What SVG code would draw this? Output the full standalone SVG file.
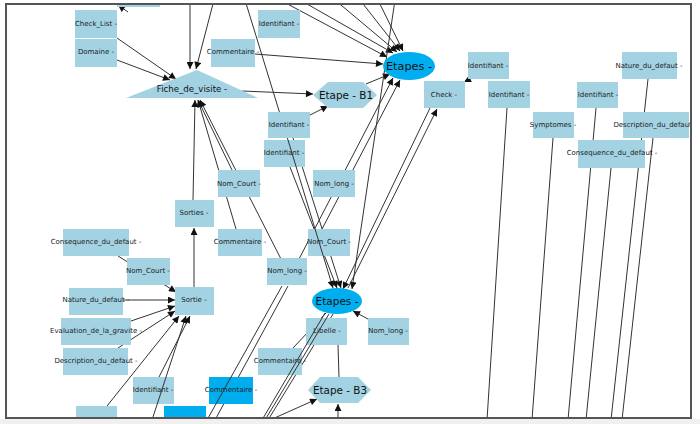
<svg xmlns="http://www.w3.org/2000/svg" width="700" height="424" viewBox="0 0 700 424">
<defs>
<style>
.n{fill:#a3d2e3}
.h{fill:#00aeef}
.t{font-family:"DejaVu Sans",Verdana,sans-serif;font-size:7px;fill:#222;text-anchor:middle;dominant-baseline:central}
.big{font-family:"DejaVu Sans",Verdana,sans-serif;fill:#111;text-anchor:middle;dominant-baseline:central}
.e{stroke:#333;stroke-width:1;fill:none}
.a{marker-end:url(#ah)}
</style>
<marker id="ah" viewBox="0 0 10 10" refX="10" refY="5" markerWidth="9" markerHeight="7" markerUnits="userSpaceOnUse" orient="auto"><path d="M0,0 L10,5 L0,10 z" fill="#111"/></marker>
<clipPath id="frame"><rect x="6" y="4" width="685" height="414"/></clipPath>
</defs>
<rect x="0" y="0" width="700" height="424" fill="#fff"/>
<rect x="0" y="419" width="700" height="5" fill="#f0f0f0"/>
<g clip-path="url(#frame)">
<g id="connectors">
<line class="e a" x1="128" y1="12" x2="118" y2="5"/>
<line class="e a" x1="190" y1="0" x2="190" y2="69"/>
<line class="e a" x1="214" y1="0" x2="196" y2="69"/>
<line class="e a" x1="117" y1="38" x2="176" y2="79"/>
<line class="e a" x1="117" y1="60" x2="170" y2="80"/>
<line class="e a" x1="255" y1="54" x2="383" y2="64"/>
<line class="e a" x1="242" y1="91" x2="313" y2="94"/>
<line class="e a" x1="310" y1="115" x2="328" y2="106"/>
<line class="e a" x1="366" y1="84" x2="390" y2="74"/>
<line class="e a" x1="280" y1="0" x2="387" y2="57"/>
<line class="e a" x1="300" y1="0" x2="393" y2="53"/>
<line class="e a" x1="335" y1="0" x2="397" y2="52"/>
<line class="e a" x1="360" y1="0" x2="400" y2="51"/>
<line class="e a" x1="378" y1="0" x2="403" y2="51"/>
<line class="e a" x1="395" y1="0" x2="352" y2="289"/>
<line class="e" x1="245" y1="0" x2="288" y2="140"/>
<line class="e a" x1="430" y1="108" x2="343" y2="289"/>
<line class="e a" x1="348" y1="288" x2="437" y2="109"/>
<line class="e a" x1="299" y1="259" x2="393" y2="78"/>
<line class="e a" x1="322" y1="229" x2="400" y2="80"/>
<line class="e a" x1="293" y1="138" x2="341" y2="288"/>
<line class="e a" x1="290" y1="167" x2="337" y2="288"/>
<line class="e a" x1="193" y1="200" x2="195" y2="100"/>
<line class="e a" x1="194" y1="287" x2="194" y2="228"/>
<line class="e a" x1="236" y1="229" x2="198" y2="100"/>
<line class="e a" x1="281" y1="259" x2="200" y2="100"/>
<line class="e a" x1="232" y1="170" x2="198" y2="100"/>
<line class="e a" x1="118" y1="256" x2="176" y2="292"/>
<line class="e a" x1="123" y1="300" x2="175" y2="300"/>
<line class="e a" x1="131" y1="321" x2="175" y2="306"/>
<line class="e a" x1="118" y1="348" x2="175" y2="311"/>
<line class="e a" x1="107" y1="406" x2="179" y2="316"/>
<line class="e a" x1="159" y1="377" x2="190" y2="316"/>
<line class="e" x1="215" y1="420" x2="288" y2="286"/>
<line class="e" x1="268" y1="420" x2="333" y2="314"/>
<line class="e a" x1="270" y1="420" x2="317" y2="399"/>
<line class="e a" x1="338" y1="420" x2="338" y2="404"/>
<line class="e" x1="338" y1="345" x2="339" y2="377"/>
<line class="e a" x1="368" y1="319" x2="353" y2="311"/>
<line class="e" x1="293" y1="348" x2="326" y2="313"/>
<line class="e" x1="507" y1="108" x2="487" y2="420"/>
<line class="e" x1="553" y1="138" x2="532" y2="420"/>
<line class="e" x1="596" y1="108" x2="568" y2="420"/>
<line class="e" x1="611" y1="168" x2="586" y2="420"/>
<line class="e" x1="648" y1="79" x2="611" y2="420"/>
<line class="e" x1="653" y1="138" x2="622" y2="420"/>
<line class="e a" x1="472" y1="78" x2="464" y2="82"/>
</g>
<g id="n-top-partial"><rect class="n" x="117" y="0" width="43" height="7"/></g>
<g id="n-checklist"><rect class="n" x="75" y="10" width="42" height="28"/><text class="t" x="96" y="24">Check_List -</text></g>
<g id="n-domaine"><rect class="n" x="75" y="39" width="42" height="28"/><text class="t" x="96" y="52">Domaine -</text></g>
<g id="n-fiche"><polygon class="n" points="126,98 197,70 258,98"/><text class="big" x="192" y="89" font-size="8.6">Fiche_de_visite -</text></g>
<g id="n-identifiant1"><rect class="n" x="258" y="10" width="42" height="28"/><text class="t" x="279" y="24">Identifiant -</text></g>
<g id="n-commentaire1"><rect class="n" x="211" y="39" width="44" height="28"/><text class="t" x="233" y="52">Commentaire -</text></g>
<g id="n-etapeb1"><polygon class="n" points="313,95 328,82 363,82 377,95 363,108 328,108"/><text class="big" x="346" y="95" font-size="10.4">Etape - B1</text></g>
<g id="n-identifiant2"><rect class="n" x="268" y="112" width="42" height="26"/><text class="t" x="289" y="125">Identifiant -</text></g>
<g id="n-identifiant3"><rect class="n" x="264" y="140" width="41" height="27"/><text class="t" x="284" y="153">Identifiant -</text></g>
<g id="n-etapes1"><ellipse class="h" cx="409" cy="66" rx="26" ry="14"/><text class="big" x="409" y="66" font-size="11.3">Etapes -</text></g>
<g id="n-identifiant4"><rect class="n" x="468" y="52" width="41" height="27"/><text class="t" x="488" y="66">Identifiant -</text></g>
<g id="n-check"><rect class="n" x="424" y="81" width="41" height="27"/><text class="t" x="444" y="95">Check -</text></g>
<g id="n-identifiant5"><rect class="n" x="488" y="81" width="42" height="27"/><text class="t" x="509" y="95">Identifiant -</text></g>
<g id="n-nature1"><rect class="n" x="622" y="52" width="55" height="27"/><text class="t" x="649" y="66">Nature_du_defaut -</text></g>
<g id="n-identifiant6"><rect class="n" x="577" y="82" width="41" height="26"/><text class="t" x="598" y="95">Identifiant -</text></g>
<g id="n-symptomes"><rect class="n" x="533" y="112" width="41" height="26"/><text class="t" x="553" y="125">Symptomes -</text></g>
<g id="n-description1"><rect class="n" x="623" y="112" width="66" height="26"/><text class="t" x="655" y="125">Description_du_defaut -</text></g>
<g id="n-consequence1"><rect class="n" x="578" y="140" width="67" height="28"/><text class="t" x="612" y="153">Consequence_du_defaut -</text></g>
<g id="n-sorties"><rect class="n" x="175" y="200" width="39" height="27"/><text class="t" x="194" y="213">Sorties -</text></g>
<g id="n-nomcourt1"><rect class="n" x="218" y="170" width="42" height="27"/><text class="t" x="239" y="184">Nom_Court -</text></g>
<g id="n-nomlong1"><rect class="n" x="313" y="170" width="42" height="27"/><text class="t" x="334" y="184">Nom_long -</text></g>
<g id="n-commentaire2"><rect class="n" x="218" y="229" width="44" height="27"/><text class="t" x="240" y="242">Commentaire -</text></g>
<g id="n-nomcourt2"><rect class="n" x="308" y="229" width="42" height="27"/><text class="t" x="329" y="242">Nom_Court -</text></g>
<g id="n-nomlong2"><rect class="n" x="267" y="258" width="40" height="27"/><text class="t" x="287" y="271">Nom_long -</text></g>
<g id="n-etapes2"><ellipse class="h" cx="337" cy="301" rx="25" ry="13"/><text class="big" x="337" y="301" font-size="10.5">Etapes -</text></g>
<g id="n-libelle"><rect class="n" x="306" y="318" width="41" height="27"/><text class="t" x="327" y="331">Libelle -</text></g>
<g id="n-nomlong3"><rect class="n" x="368" y="318" width="41" height="27"/><text class="t" x="388" y="331">Nom_long -</text></g>
<g id="n-commentaire3"><rect class="n" x="258" y="348" width="44" height="27"/><text class="t" x="280" y="361">Commentaire -</text></g>
<g id="n-etapeb3"><polygon class="n" points="308,390 320,377 358,377 371,390 358,403 320,403"/><text class="big" x="340" y="390" font-size="10.4">Etape - B3</text></g>
<g id="n-consequence2"><rect class="n" x="63" y="229" width="66" height="27"/><text class="t" x="96" y="242">Consequence_du_defaut -</text></g>
<g id="n-nomcourt3"><rect class="n" x="127" y="258" width="43" height="27"/><text class="t" x="148" y="271">Nom_Court -</text></g>
<g id="n-sortie"><rect class="n" x="175" y="287" width="39" height="28"/><text class="t" x="194" y="300">Sortie -</text></g>
<g id="n-nature2"><rect class="n" x="69" y="288" width="54" height="27"/><text class="t" x="96" y="300">Nature_du_defaut -</text></g>
<g id="n-evaluation"><rect class="n" x="61" y="318" width="70" height="27"/><text class="t" x="96" y="331">Evaluation_de_la_gravite -</text></g>
<g id="n-description2"><rect class="n" x="63" y="348" width="65" height="27"/><text class="t" x="96" y="361">Description_du_defaut -</text></g>
<g id="n-identifiant7"><rect class="n" x="133" y="377" width="41" height="27"/><text class="t" x="153" y="390">Identifiant -</text></g>
<g id="n-bottom-partial1"><rect class="n" x="76" y="406" width="41" height="16"/></g>
<g id="n-bottom-partial2"><rect class="h" x="164" y="406" width="42" height="16"/></g>
<g id="n-commentaire4"><rect class="h" x="209" y="377" width="44" height="27"/><text class="t" x="231" y="390">Commentaire -</text></g>
<g id="connectors-over">
<line class="e a" x1="288" y1="140" x2="333" y2="288"/>
<line class="e a" x1="152" y1="420" x2="186" y2="316"/>
<line class="e" x1="207" y1="420" x2="282" y2="286"/>
<line class="e" x1="262" y1="420" x2="325" y2="313"/>
<line class="e" x1="265" y1="420" x2="329" y2="314"/>
</g>
</g>
<rect x="6" y="4" width="685" height="414" fill="none" stroke="#555" stroke-width="2"/>
</svg>
